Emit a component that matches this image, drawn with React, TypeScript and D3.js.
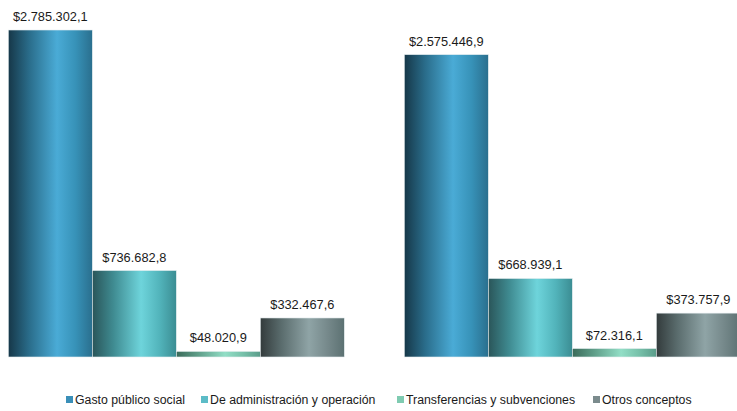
import React from "react";
import * as d3 from "d3";

const groups = ["Periodo 1", "Periodo 2"];
const series = [
  "Gasto público social",
  "De administración y operación",
  "Transferencias y subvenciones",
  "Otros conceptos",
];
const valuesPeriodo1 = [2785302.1, 736682.8, 48020.9, 332467.6];
const valuesPeriodo2 = [2575446.9, 668939.1, 72316.1, 373757.9];
const allValues = [valuesPeriodo1, valuesPeriodo2];

const swatch = ["#3a8fb8", "#5cbcc7", "#7fcbb1", "#7b8b8d"];
const gradStops = [
  ["#163748", "#2a6d8b", "#4aabd6", "#3792b8", "#2a6f8e"],
  ["#2a5559", "#3f8b91", "#6ed4db", "#52b4bb", "#3b8d93"],
  ["#3a6a59", "#5d9c87", "#92dec6", "#76c0a9", "#5a9c8a"],
  ["#333b3c", "#5a6c6d", "#8fa4a6", "#76898b", "#5c7172"],
];
const stopOffsets = ["0%", "25%", "58%", "80%", "100%"];

const W = 737;
const H = 411;
const FONT = "'Liberation Sans', Arial, sans-serif";

const fmt = (v: number) => {
  const [intPart, dec] = v.toFixed(1).split(".");
  const withDots = intPart.replace(/\B(?=(\d{3})+(?!\d))/g, ".");
  return `$${withDots},${dec}`;
};

const legendX = [66, 201, 397, 593];

export default function App() {
  const x0 = d3.scaleBand<string>().domain(groups).range([8.3, 740.3]).paddingInner(60 / 396).paddingOuter(0);
  const x1 = d3.scaleBand<string>().domain(series).range([0, x0.bandwidth()]).padding(0);
  const y = d3.scaleLinear().domain([0, d3.max(allValues.flat()) as number]).range([357, 30]);

  return (
    <svg
      width={W}
      height={H}
      style={{ position: "absolute", left: 0, top: 0, background: "#fff", overflow: "hidden" }}
    >
      <defs>
        {gradStops.map((stops, i) => (
          <linearGradient key={i} id={`g${i}`} x1="0" x2="1" y1="0" y2="0">
            {stops.map((c, j) => (
              <stop key={j} offset={stopOffsets[j]} stopColor={c} />
            ))}
          </linearGradient>
        ))}
      </defs>
      {groups.map((g, gi) => (
        <g key={g} transform={`translate(${x0(g)},0)`}>
          {series.map((s, si) => {
            const v = allValues[gi][si];
            const bx = x1(s) as number;
            const by = y(v);
            return (
              <g key={s}>
                <rect
                  x={bx}
                  y={by}
                  width={x1.bandwidth()}
                  height={y(0) - by}
                  fill={`url(#g${si})`}
                  stroke="#e6eef0"
                  strokeWidth={0.6}
                />
                <text
                  x={bx + x1.bandwidth() / 2}
                  y={by - 9}
                  textAnchor="middle"
                  fontFamily={FONT}
                  fontSize={12.8}
                  fill="#1a1a1a"
                >
                  {fmt(v)}
                </text>
              </g>
            );
          })}
        </g>
      ))}
      <g>
        {series.map((s, i) => (
          <g key={s} transform={`translate(${legendX[i]},0)`}>
            <rect x={0} y={396} width={7} height={7} fill={swatch[i]} />
            <text x={9} y={404} fontFamily={FONT} fontSize={12.3} fill="#1a1a1a">
              {s}
            </text>
          </g>
        ))}
      </g>
    </svg>
  );
}
